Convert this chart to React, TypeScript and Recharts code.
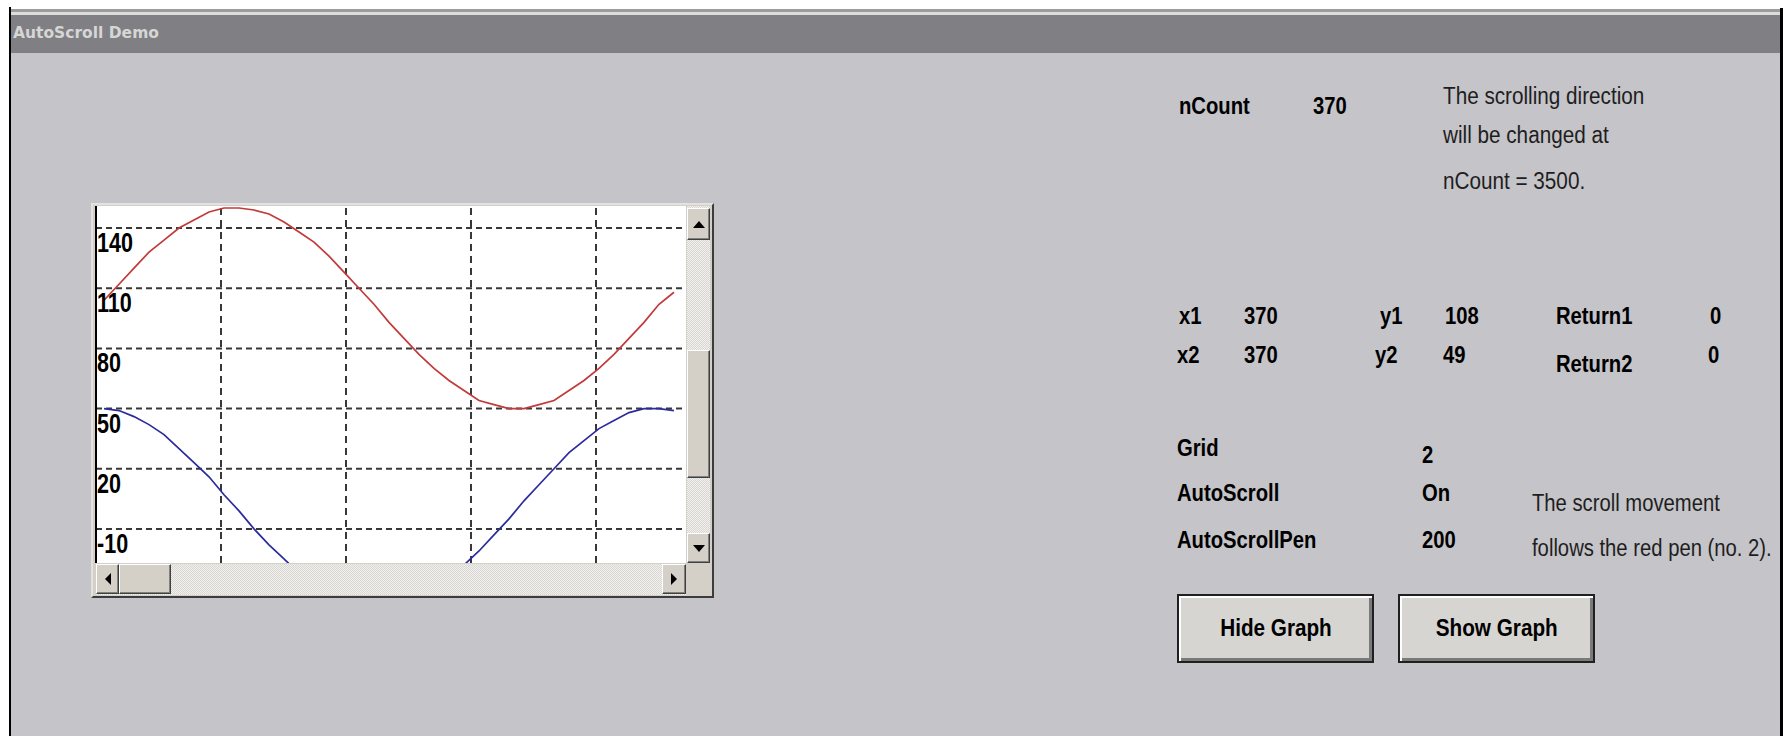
import { LineChart, Line, XAxis, YAxis, ReferenceLine } from 'recharts';

// pen samples (x = count position inside the visible window)
const counts = [8, 23, 38, 53, 68, 83, 98, 113, 128, 143, 158, 173, 188, 203, 218, 233, 248, 263, 278, 293,
  308, 323, 338, 353, 368, 383, 398, 413, 428, 443, 458, 473, 488, 503, 518, 533, 548, 563, 578];
const redPen = [104, 112, 120, 128, 134, 140, 144, 148, 150, 150, 149, 147, 143, 138, 133, 126, 118, 110, 102, 93,
  85, 77, 70, 64, 59, 54, 52, 50, 50, 52, 54, 59, 64, 70, 77, 85, 93, 102, 108];
const bluePen = [50, 49, 46, 42, 37, 30, 23, 16, 7, -1, -10, -18, -25, -32, -38, -43, -47, -49, -50, -50,
  -48, -45, -40, -35, -28, -21, -13, -5, 4, 12, 20, 28, 34, 40, 44, 48, 50, 50, 49];
const yTicks = [-10, 20, 50, 80, 110, 140];
const xGrid = [125, 250, 375, 500];

const data = counts.map((c, i) => ({ c, red: redPen[i], blue: bluePen[i] }));

const SANS = '"Liberation Sans", Arial, sans-serif';
const FACE = '#d4d0c8';
const GRID = '#383838';

const YTick = ({ x, y, payload }: any) => (
  <text
    transform={`translate(${x},${y + 24}) scale(0.77,1)`}
    textAnchor="start"
    fontFamily={SANS}
    fontSize={28}
    fontWeight="bold"
    fill="#000"
  >
    {payload.value}
  </text>
);

function Label({ text, x, y, bold = true, sx = 0.88 }: any) {
  return (
    <div
      style={{
        position: 'absolute',
        left: x,
        top: y - 14,
        height: 28,
        lineHeight: '28px',
        fontSize: 23,
        fontFamily: SANS,
        fontWeight: bold ? 700 : 400,
        color: bold ? '#000' : '#1e1e1e',
        whiteSpace: 'nowrap',
        transform: `scaleX(${sx})`,
        transformOrigin: 'left center',
      }}
    >
      {text}
    </div>
  );
}

function Raised({ left, top, width, height, children }: any) {
  return (
    <div
      style={{
        position: 'absolute',
        left,
        top,
        width,
        height,
        boxSizing: 'border-box',
        background: FACE,
        borderTop: '1px solid #fff',
        borderLeft: '1px solid #fff',
        borderRight: '1px solid #404040',
        borderBottom: '1px solid #404040',
        boxShadow: 'inset -1px -1px 0 #808080',
        display: 'flex',
        alignItems: 'center',
        justifyContent: 'center',
      }}
    >
      {children}
    </div>
  );
}

const arrows: Record<string, string> = {
  up: '0,7 6,0 12,7',
  down: '0,0 12,0 6,7',
  left: '6,0 6,12 0,6',
  right: '0,0 0,12 6,6',
};

function Arrow({ dir }: { dir: string }) {
  const vert = dir === 'up' || dir === 'down';
  return (
    <svg width={vert ? 12 : 6} height={vert ? 7 : 12}>
      <polygon points={arrows[dir]} fill="#000" />
    </svg>
  );
}

function Btn({ label, left }: any) {
  return (
    <div
      style={{
        position: 'absolute',
        left,
        top: 594,
        width: 197,
        height: 69,
        boxSizing: 'border-box',
        background: '#d7d5d1',
        border: '2px solid #202020',
        boxShadow: 'inset 2px 2px 0 #fff, inset -3px -3px 0 #7a7a7a',
        display: 'flex',
        alignItems: 'center',
        justifyContent: 'center',
      }}
    >
      <span style={{ fontFamily: SANS, fontSize: 23, fontWeight: 700, transform: 'scaleX(0.9)', whiteSpace: 'nowrap' }}>
        {label}
      </span>
    </div>
  );
}

const track = {
  position: 'absolute' as const,
  backgroundColor: '#e6e5e2',
  backgroundImage: 'repeating-conic-gradient(#f2f1ee 0 25%, #d8d6d2 0 50%)',
  backgroundSize: '2px 2px',
};

export default function App() {
  return (
    <div style={{ position: 'absolute', left: 0, top: 0, width: 1783, height: 736, background: '#fff', overflow: 'hidden' }}>
      {/* window frame */}
      <div style={{ position: 'absolute', left: 11, top: 9, width: 1769, height: 3, background: '#9c9c9c' }} />
      <div style={{ position: 'absolute', left: 11, top: 12, width: 1769, height: 3, background: '#dcdcdc' }} />
      <div style={{ position: 'absolute', left: 11, top: 15, width: 1769, height: 38, background: '#807f83' }} />
      <div style={{ position: 'absolute', left: 11, top: 53, width: 1769, height: 683, background: '#c5c4c8' }} />
      <div style={{ position: 'absolute', left: 9, top: 7, width: 2, height: 729, background: '#000' }} />
      <div style={{ position: 'absolute', left: 1780, top: 8, width: 3, height: 728, background: '#000' }} />
      <div
        style={{
          position: 'absolute',
          left: 13,
          top: 23,
          lineHeight: '20px',
          fontFamily: '"DejaVu Sans", Verdana, sans-serif',
          fontSize: 15.5,
          fontWeight: 700,
          color: '#d6d6d6',
          whiteSpace: 'nowrap',
        }}
      >
        AutoScroll Demo
      </div>

      {/* graph control */}
      <div
        style={{
          position: 'absolute',
          left: 91,
          top: 203,
          width: 623,
          height: 395,
          boxSizing: 'border-box',
          background: FACE,
          borderTop: '2px solid #e2e2e2',
          borderLeft: '2px solid #e2e2e2',
          borderRight: '2px solid #3c3c3c',
          borderBottom: '2px solid #3c3c3c',
        }}
      />
      <div style={{ position: 'absolute', left: 96, top: 206, width: 590, height: 357, background: '#fff' }} />
      <div style={{ position: 'absolute', left: 93, top: 206 }}>
        <LineChart width={593} height={357} data={data} margin={{ top: 0, right: 0, bottom: 0, left: 3 }}>
          <XAxis dataKey="c" type="number" domain={[0, 590]} allowDataOverflow hide />
          <YAxis
            type="number"
            domain={[-27, 151]}
            ticks={yTicks}
            allowDataOverflow
            mirror
            tickSize={0}
            tickMargin={1}
            tickLine={false}
            axisLine={{ stroke: '#000', strokeWidth: 2 }}
            tick={<YTick />}
          />
          {yTicks.map((v) => (
            <ReferenceLine key={`h${v}`} y={v} stroke={GRID} strokeWidth={2} strokeDasharray="6 4" />
          ))}
          {xGrid.map((v) => (
            <ReferenceLine key={`v${v}`} x={v} stroke={GRID} strokeWidth={2} strokeDasharray="7 5" />
          ))}
          <Line dataKey="red" type="linear" stroke="#c23a3a" strokeWidth={1.7} dot={false} isAnimationActive={false} />
          <Line dataKey="blue" type="linear" stroke="#2b2b9e" strokeWidth={1.7} dot={false} isAnimationActive={false} />
        </LineChart>
      </div>

      {/* scroll bars */}
      <div style={{ ...track, left: 687, top: 206, width: 23, height: 357 }} />
      <Raised left={687} top={208} width={23} height={32}><Arrow dir="up" /></Raised>
      <Raised left={687} top={350} width={23} height={128} />
      <Raised left={687} top={533} width={23} height={30}><Arrow dir="down" /></Raised>
      <div style={{ ...track, left: 96, top: 564, width: 590, height: 31 }} />
      <Raised left={96} top={564} width={23} height={30}><Arrow dir="left" /></Raised>
      <Raised left={119} top={564} width={52} height={30} />
      <Raised left={662} top={564} width={24} height={30}><Arrow dir="right" /></Raised>

      {/* status panel */}
      <Label text="nCount" x={1179} y={106} />
      <Label text="370" x={1313} y={106} />
      <Label text="The scrolling direction" x={1443} y={96} bold={false} sx={0.9} />
      <Label text="will be changed at" x={1443} y={135} bold={false} sx={0.9} />
      <Label text="nCount = 3500." x={1443} y={181} bold={false} sx={0.9} />

      <Label text="x1" x={1179} y={316} />
      <Label text="370" x={1244} y={316} />
      <Label text="y1" x={1380} y={316} />
      <Label text="108" x={1445} y={316} />
      <Label text="Return1" x={1556} y={316} />
      <Label text="0" x={1710} y={316} />
      <Label text="x2" x={1177} y={355} />
      <Label text="370" x={1244} y={355} />
      <Label text="y2" x={1375} y={355} />
      <Label text="49" x={1443} y={355} />
      <Label text="Return2" x={1556} y={364} />
      <Label text="0" x={1708} y={355} />

      <Label text="Grid" x={1177} y={448} />
      <Label text="2" x={1422} y={455} />
      <Label text="AutoScroll" x={1177} y={493} />
      <Label text="On" x={1422} y={493} />
      <Label text="AutoScrollPen" x={1177} y={540} />
      <Label text="200" x={1422} y={540} />
      <Label text="The scroll movement" x={1532} y={503} bold={false} sx={0.88} />
      <Label text="follows the red pen (no. 2)." x={1532} y={548} bold={false} sx={0.88} />

      <Btn label="Hide Graph" left={1177} />
      <Btn label="Show Graph" left={1398} />
    </div>
  );
}
